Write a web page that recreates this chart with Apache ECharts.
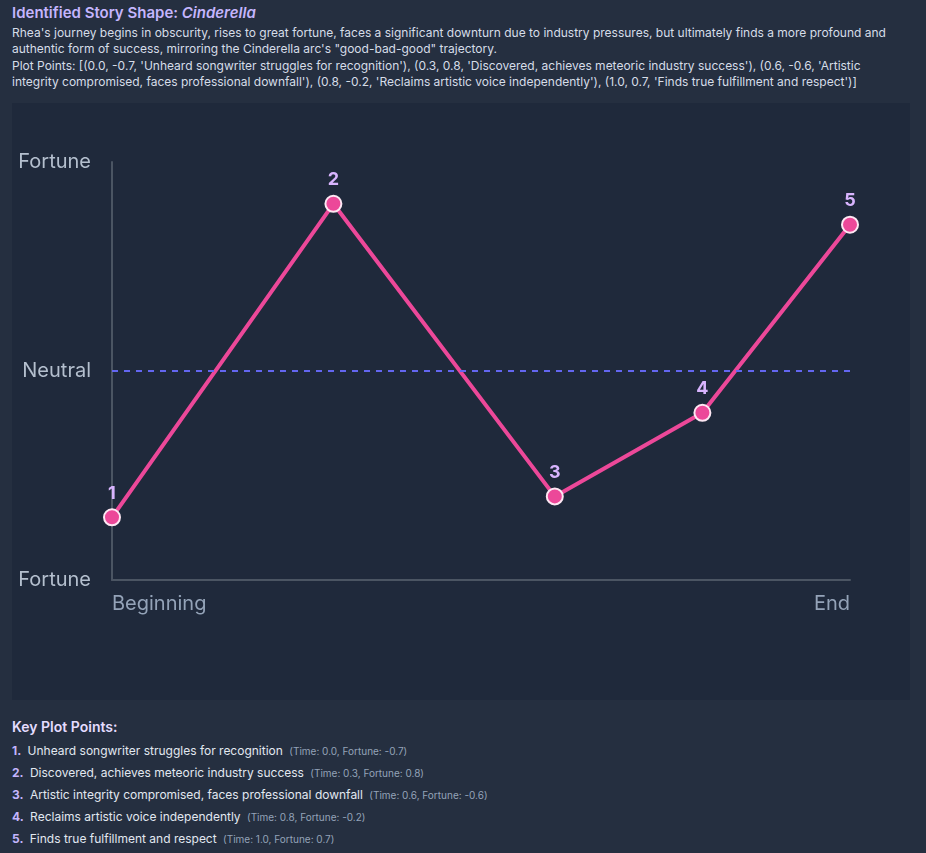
<!DOCTYPE html>
<html>
<head>
<meta charset="utf-8">
<script src="https://cdn.jsdelivr.net/npm/echarts@6/dist/echarts.min.js"></script>
<style>
  body { margin: 0; background: #252f40; font-family: Inter, "Noto Sans", sans-serif; color: #cbd5e1; width: 926px; height: 853px; overflow: hidden; }
  .head { position: absolute; left: 12px; top: 3px; width: 890px; }
  .head h3 { margin: 0 0 3px 0; font-size: 15px; font-weight: 600; color: #c4b5fd; }
  .head p { margin: 0; font-size: 12px; line-height: 16.4px; color: #d6dde8; }
  #chart { position: absolute; left: 12px; top: 103px; width: 898px; height: 597px; background: #1f293b; }
  .keys { position: absolute; left: 12px; top: 718px; }
  .keys h4 { margin: 0 0 5px 0; font-size: 14px; font-weight: 600; color: #e4dcff; }
  .keys div { font-size: 12px; height: 22px; line-height: 22px; color: #e2e8f0; }
  .keys b { color: #c4b5fd; margin-right: 3px; }
  .keys small { font-size: 10px; color: #94a3b8; margin-left: 3px; }
</style>
</head>
<body>
<div class="head">
  <h3>Identified Story Shape: <i>Cinderella</i></h3>
  <p>Rhea's journey begins in obscurity, rises to great fortune, faces a significant downturn due to industry pressures, but ultimately finds a more profound and authentic form of success, mirroring the Cinderella arc's "good-bad-good" trajectory.<br>Plot Points: [(0.0, -0.7, 'Unheard songwriter struggles for recognition'), (0.3, 0.8, 'Discovered, achieves meteoric industry success'), (0.6, -0.6, 'Artistic integrity compromised, faces professional downfall'), (0.8, -0.2, 'Reclaims artistic voice independently'), (1.0, 0.7, 'Finds true fulfillment and respect')]</p>
</div>
<div id="chart"></div>
<div class="keys" id="keys"><h4>Key Plot Points:</h4></div>
<script>
// plot points
var times = [0.0, 0.3, 0.6, 0.8, 1.0];
var fortunes = [-0.7, 0.8, -0.6, -0.2, 0.7];
var events = [
  'Unheard songwriter struggles for recognition',
  'Discovered, achieves meteoric industry success',
  'Artistic integrity compromised, faces professional downfall',
  'Reclaims artistic voice independently',
  'Finds true fulfillment and respect'
];
var yTickLabels = { '-1': 'Fortune', '0': 'Neutral', '1': 'Fortune' };
var xTickLabels = { '0': 'Beginning', '1': 'End' };

var keys = document.getElementById('keys');
events.forEach(function (e, i) {
  var d = document.createElement('div');
  d.innerHTML = '<b>' + (i + 1) + '.</b> ' + e + ' <small>(Time: ' + times[i].toFixed(1) + ', Fortune: ' + fortunes[i] + ')</small>';
  keys.appendChild(d);
});

var chart = echarts.init(document.getElementById('chart'));
chart.setOption({
  animation: false,
  grid: { left: 100, right: 60, top: 59, bottom: 120 },
  xAxis: {
    type: 'value', min: 0, max: 1, interval: 1,
    axisLine: { onZero: false, lineStyle: { color: '#4b5563', width: 2 } },
    axisTick: { show: false },
    splitLine: { show: false },
    axisLabel: {
      color: '#94a3b8', fontSize: 20, fontFamily: 'Inter', margin: 14,
      alignMinLabel: 'left', alignMaxLabel: 'right',
      formatter: function (v) { return xTickLabels[String(v)] || ''; }
    }
  },
  yAxis: {
    type: 'value', min: -1, max: 1, interval: 1,
    axisLine: { show: true, onZero: false, lineStyle: { color: '#4b5563', width: 2 } },
    axisTick: { show: false },
    splitLine: { show: false },
    axisLabel: {
      color: '#b4bfce', fontSize: 20, fontFamily: 'Inter', margin: 21,
      formatter: function (v) { return yTickLabels[String(v)] || ''; }
    }
  },
  series: [{
    type: 'line',
    data: times.map(function (t, i) { return [t, fortunes[i]]; }),
    lineStyle: { color: '#ec4899', width: 4 },
    symbol: 'circle', symbolSize: 16,
    itemStyle: { color: '#ec4899', borderColor: '#fde7f3', borderWidth: 2 },
    label: {
      show: true, position: 'top', distance: 6,
      color: '#d8b4fe', fontSize: 18, fontWeight: 'bold', fontFamily: 'Inter',
      formatter: function (p) { return p.dataIndex + 1; }
    },
    markLine: {
      silent: true, symbol: 'none',
      label: { show: false },
      lineStyle: { color: '#6366f1', type: [6, 6], width: 2 },
      data: [{ yAxis: 0 }]
    },
    z: 3
  }]
});
</script>
</body>
</html>
